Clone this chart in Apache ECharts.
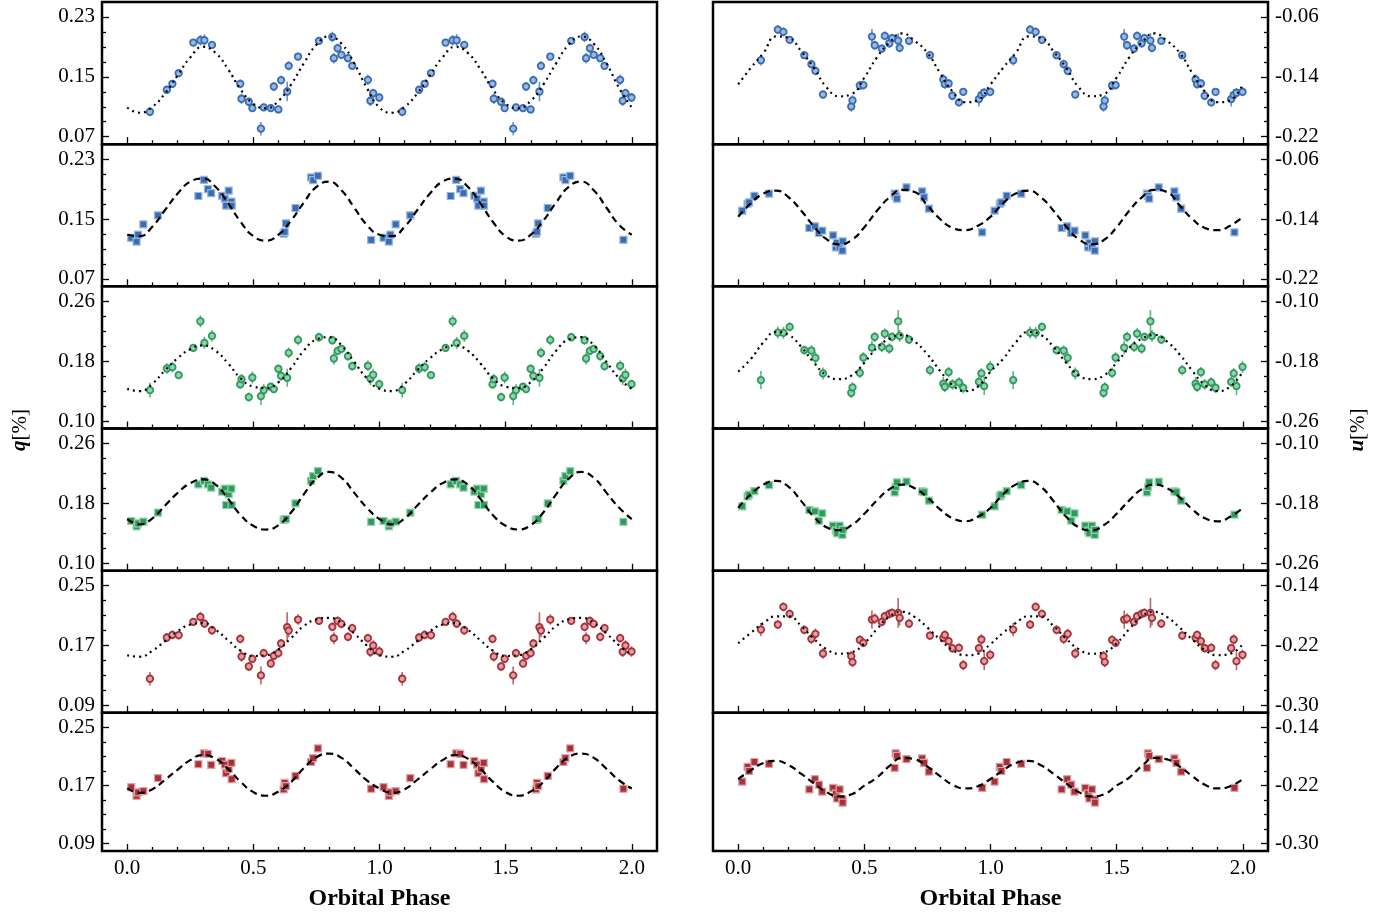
<!DOCTYPE html>
<html><head><meta charset="utf-8">
<script src="https://cdn.jsdelivr.net/npm/echarts@6/dist/echarts.min.js"></script>
<style>html,body{margin:0;padding:0;background:#fff}#c{width:1397px;height:912px}</style>
</head><body><div id="c"></div>
<script>
// ---------- DATA ----------
const phaseC = [0.090,0.157,0.179,0.204,0.262,0.290,0.306,0.336,0.448,0.453,0.482,0.496,0.530,0.541,0.569,0.581,0.599,0.610,0.634,0.640,0.677,0.760,0.813,0.819,0.834,0.849,0.875,0.892,0.954,0.964,0.975,0.999];
const phaseS = [0.016,0.037,0.043,0.064,0.122,0.282,0.304,0.320,0.333,0.376,0.387,0.392,0.402,0.413,0.414,0.620,0.624,0.629,0.667,0.729,0.737,0.756,0.967];
const modelPhase = [0,0.05,0.10,0.15,0.20,0.25,0.30,0.35,0.40,0.45,0.50,0.55,0.60,0.65,0.70,0.75,0.80,0.85,0.90,0.95,1.00];

// q (left column)
const qBlueC = [0.1033,0.1327,0.1407,0.1549,0.1958,0.1989,0.1989,0.1927,0.1407,0.1207,0.1167,0.1082,0.0807,0.1091,0.1082,0.1371,0.1064,0.1456,0.1304,0.1647,0.1771,0.198,0.2033,0.1749,0.1882,0.1793,0.1749,0.1647,0.146,0.118,0.1282,0.1224];
const qBlueCErr = [0.006,0.005,0.005,0.004,0.004,0.007,0.008,0.005,0.006,0.007,0.005,0.005,0.009,0.005,0.005,0.006,0.005,0.006,0.013,0.006,0.005,0.005,0.007,0.007,0.006,0.005,0.005,0.005,0.007,0.007,0.006,0.006];
const qBlueS = [0.1247,0.1198,0.1291,0.1429,0.1549,0.1807,0.2024,0.19,0.1847,0.1811,0.1771,0.1678,0.1878,0.1731,0.1678,0.1304,0.1327,0.1442,0.1647,0.2056,0.202,0.2078,0.122];
const qGreenC = [0.1413,0.1702,0.172,0.1613,0.1978,0.2333,0.2044,0.2138,0.1489,0.156,0.132,0.1582,0.1333,0.1413,0.1458,0.1427,0.1698,0.1604,0.1578,0.1911,0.2084,0.212,0.208,0.1836,0.1938,0.1964,0.1867,0.1733,0.1738,0.1569,0.1618,0.1493];
const qGreenCErr = [0.01,0.007,0.007,0.005,0.005,0.008,0.008,0.008,0.006,0.007,0.006,0.008,0.012,0.008,0.005,0.005,0.006,0.007,0.012,0.007,0.007,0.006,0.006,0.008,0.006,0.005,0.006,0.006,0.007,0.009,0.008,0.006];
const qGreenS = [0.1564,0.1493,0.1533,0.1556,0.1676,0.2053,0.2102,0.2053,0.2009,0.1956,0.1996,0.1778,0.1924,0.1996,0.1778,0.1578,0.1585,0.1591,0.18,0.2102,0.2164,0.2231,0.1551];
const qRedC = [0.1256,0.1807,0.1842,0.1838,0.2016,0.2082,0.1993,0.1904,0.1789,0.1553,0.142,0.1522,0.13,0.1598,0.146,0.1562,0.1598,0.1727,0.1944,0.19,0.2047,0.2029,0.1949,0.1798,0.2029,0.1989,0.1816,0.1931,0.1798,0.1616,0.17,0.162];
const qRedCErr = [0.009,0.006,0.006,0.006,0.005,0.007,0.006,0.006,0.006,0.007,0.006,0.006,0.012,0.006,0.006,0.006,0.006,0.006,0.02,0.009,0.007,0.005,0.006,0.008,0.006,0.006,0.006,0.006,0.006,0.007,0.007,0.007];
const qRedS = [0.1678,0.1558,0.1607,0.1624,0.1802,0.1993,0.2144,0.2136,0.1984,0.2038,0.1989,0.1869,0.1931,0.2011,0.1789,0.1647,0.1736,0.1691,0.1833,0.2024,0.2078,0.2211,0.1656];

// u (right column)
const uBlueC = [-0.1178,-0.0769,-0.08,-0.0907,-0.1111,-0.1231,-0.132,-0.1636,-0.1796,-0.1716,-0.1516,-0.1511,-0.0862,-0.0978,-0.1022,-0.0853,-0.0951,-0.0884,-0.0916,-0.1013,-0.092,-0.1111,-0.1436,-0.1498,-0.1489,-0.1653,-0.1742,-0.16,-0.1698,-0.1644,-0.1613,-0.16];
const uBlueCErr = [0.007,0.006,0.006,0.005,0.005,0.006,0.006,0.005,0.007,0.007,0.006,0.006,0.01,0.006,0.006,0.006,0.006,0.006,0.01,0.006,0.005,0.005,0.007,0.006,0.006,0.006,0.005,0.005,0.01,0.008,0.006,0.006];
const uBlueS = [-0.1289,-0.1196,-0.1178,-0.1089,-0.1062,-0.152,-0.1498,-0.1587,-0.1556,-0.1618,-0.1778,-0.172,-0.1778,-0.1822,-0.1698,-0.1062,-0.109,-0.1129,-0.0978,-0.1031,-0.1111,-0.1262,-0.1578];
const uGreenC = [-0.2053,-0.1418,-0.1422,-0.1342,-0.1653,-0.1658,-0.1756,-0.1964,-0.2222,-0.2151,-0.1956,-0.1751,-0.1618,-0.1476,-0.1609,-0.1431,-0.1631,-0.1476,-0.1267,-0.1462,-0.1511,-0.192,-0.2102,-0.2142,-0.1947,-0.2111,-0.2084,-0.2156,-0.2076,-0.1964,-0.2133,-0.1876];
const uGreenCErr = [0.012,0.008,0.008,0.006,0.006,0.007,0.008,0.008,0.007,0.007,0.007,0.007,0.009,0.007,0.007,0.007,0.007,0.006,0.015,0.008,0.006,0.007,0.009,0.007,0.007,0.007,0.007,0.007,0.007,0.007,0.012,0.008];
const uGreenS = [-0.184,-0.1707,-0.1684,-0.1636,-0.1556,-0.1889,-0.1907,-0.2031,-0.1933,-0.2098,-0.2164,-0.22,-0.2098,-0.2222,-0.2156,-0.1653,-0.158,-0.152,-0.1511,-0.164,-0.1652,-0.1764,-0.1951];
const uRedC = [-0.1987,-0.192,-0.1684,-0.1778,-0.1991,-0.2111,-0.2044,-0.2307,-0.2342,-0.2422,-0.2124,-0.2164,-0.1853,-0.184,-0.1884,-0.1809,-0.1778,-0.1764,-0.1764,-0.1831,-0.1907,-0.2067,-0.2098,-0.2058,-0.2142,-0.2236,-0.2231,-0.2462,-0.2236,-0.212,-0.2409,-0.2324];
const uRedCErr = [0.009,0.006,0.006,0.006,0.006,0.007,0.007,0.007,0.007,0.007,0.006,0.006,0.012,0.007,0.006,0.006,0.006,0.006,0.02,0.01,0.006,0.006,0.006,0.006,0.006,0.006,0.006,0.007,0.006,0.007,0.012,0.007];
const uRedS = [-0.2147,-0.1942,-0.2,-0.1876,-0.1902,-0.2253,-0.2111,-0.2187,-0.2284,-0.2231,-0.2311,-0.2378,-0.2253,-0.2391,-0.2436,-0.1956,-0.1756,-0.1791,-0.1836,-0.1827,-0.1889,-0.2009,-0.2231];

// model curves (phase 0..1, step 0.05)
const qBlueCModel  = [0.109,0.102,0.110,0.128,0.152,0.176,0.190,0.182,0.160,0.133,0.114,0.108,0.118,0.140,0.168,0.193,0.204,0.194,0.168,0.135,0.109];
const qBlueSModel  = [0.129,0.127,0.140,0.162,0.184,0.200,0.204,0.193,0.171,0.146,0.127,0.121,0.129,0.148,0.172,0.193,0.200,0.188,0.165,0.142,0.129];
const qGreenCModel = [0.143,0.140,0.150,0.168,0.184,0.196,0.201,0.194,0.177,0.157,0.146,0.144,0.152,0.171,0.194,0.209,0.212,0.201,0.179,0.157,0.143];
const qGreenSModel = [0.159,0.152,0.160,0.177,0.194,0.207,0.212,0.205,0.186,0.164,0.150,0.145,0.151,0.168,0.192,0.213,0.222,0.214,0.194,0.174,0.159];
const qRedCModel   = [0.157,0.155,0.163,0.176,0.189,0.198,0.200,0.191,0.177,0.163,0.156,0.157,0.165,0.180,0.196,0.205,0.207,0.200,0.186,0.170,0.157];
const qRedSModel   = [0.166,0.160,0.165,0.178,0.192,0.205,0.212,0.207,0.193,0.175,0.161,0.156,0.162,0.175,0.194,0.209,0.214,0.208,0.193,0.177,0.166];
const uBlueCModel  = [-0.150,-0.128,-0.108,-0.086,-0.088,-0.106,-0.128,-0.154,-0.166,-0.163,-0.141,-0.114,-0.094,-0.082,-0.092,-0.108,-0.135,-0.160,-0.174,-0.171,-0.150];
const uBlueSModel  = [-0.137,-0.119,-0.106,-0.102,-0.111,-0.129,-0.150,-0.167,-0.174,-0.168,-0.151,-0.129,-0.111,-0.101,-0.104,-0.122,-0.140,-0.152,-0.155,-0.149,-0.137];
const uGreenCModel = [-0.194,-0.177,-0.155,-0.141,-0.145,-0.161,-0.182,-0.199,-0.204,-0.199,-0.182,-0.162,-0.150,-0.145,-0.154,-0.171,-0.193,-0.212,-0.220,-0.214,-0.194];
const uGreenSModel = [-0.186,-0.168,-0.155,-0.150,-0.158,-0.177,-0.198,-0.212,-0.216,-0.209,-0.194,-0.176,-0.161,-0.155,-0.160,-0.172,-0.188,-0.200,-0.204,-0.198,-0.186];
const uRedCModel   = [-0.217,-0.203,-0.190,-0.181,-0.181,-0.194,-0.211,-0.225,-0.231,-0.229,-0.217,-0.198,-0.181,-0.175,-0.182,-0.196,-0.212,-0.226,-0.233,-0.231,-0.218];
const uRedSModel   = [-0.211,-0.199,-0.189,-0.186,-0.192,-0.204,-0.217,-0.229,-0.235,-0.232,-0.220,-0.209,-0.193,-0.182,-0.184,-0.194,-0.207,-0.219,-0.224,-0.221,-0.211];

// axis ticks / ranges
const xTicks = [0.0,0.5,1.0,1.5,2.0];
const xRange = [-0.1,2.1];
const qBlueTicks = [0.07,0.15,0.23],  qBlueRange = [0.06,0.25];
const qGreenTicks = [0.10,0.18,0.26], qGreenRange = [0.09,0.28];
const qRedTicks = [0.09,0.17,0.25],   qRedRange = [0.08,0.27];
const uBlueTicks = [-0.22,-0.14,-0.06],  uBlueRange = [-0.23,-0.04];
const uGreenTicks = [-0.26,-0.18,-0.10], uGreenRange = [-0.27,-0.08];
const uRedTicks = [-0.30,-0.22,-0.14],   uRedRange = [-0.31,-0.12];

// ---------- STYLE / LAYOUT ----------
const BLUE = '#3a6cb2', GREEN = '#2e9a5d', RED = '#a5323a';
const LIGHT = {[BLUE]:'#9bb8e0', [GREEN]:'#93d3ac', [RED]:'#e0a0a4'};
const FONT = 'Liberation Serif';

const panels = [
  {row:0,col:0,ph:phaseC,val:qBlueC,err:qBlueCErr,model:qBlueCModel,kind:'c',color:BLUE,ticks:qBlueTicks,range:qBlueRange},
  {row:1,col:0,ph:phaseS,val:qBlueS,model:qBlueSModel,kind:'s',color:BLUE,ticks:qBlueTicks,range:qBlueRange},
  {row:2,col:0,ph:phaseC,val:qGreenC,err:qGreenCErr,model:qGreenCModel,kind:'c',color:GREEN,ticks:qGreenTicks,range:qGreenRange},
  {row:3,col:0,ph:phaseS,val:qGreenS,model:qGreenSModel,kind:'s',color:GREEN,ticks:qGreenTicks,range:qGreenRange},
  {row:4,col:0,ph:phaseC,val:qRedC,err:qRedCErr,model:qRedCModel,kind:'c',color:RED,ticks:qRedTicks,range:qRedRange},
  {row:5,col:0,ph:phaseS,val:qRedS,model:qRedSModel,kind:'s',color:RED,ticks:qRedTicks,range:qRedRange},
  {row:0,col:1,ph:phaseC,val:uBlueC,err:uBlueCErr,model:uBlueCModel,kind:'c',color:BLUE,ticks:uBlueTicks,range:uBlueRange},
  {row:1,col:1,ph:phaseS,val:uBlueS,model:uBlueSModel,kind:'s',color:BLUE,ticks:uBlueTicks,range:uBlueRange},
  {row:2,col:1,ph:phaseC,val:uGreenC,err:uGreenCErr,model:uGreenCModel,kind:'c',color:GREEN,ticks:uGreenTicks,range:uGreenRange},
  {row:3,col:1,ph:phaseS,val:uGreenS,model:uGreenSModel,kind:'s',color:GREEN,ticks:uGreenTicks,range:uGreenRange},
  {row:4,col:1,ph:phaseC,val:uRedC,err:uRedCErr,model:uRedCModel,kind:'c',color:RED,ticks:uRedTicks,range:uRedRange},
  {row:5,col:1,ph:phaseS,val:uRedS,model:uRedSModel,kind:'s',color:RED,ticks:uRedTicks,range:uRedRange}
];

const TOP = 2, ROWH = 142.17, LEFTX = [102, 713], W = 555;
const xMinor = [];
for (let k = 1; k < 20; k++) { if (k % 5) xMinor.push(k / 10); }

const grids = [], xAxes = [], yAxes = [], series = [];
const tickStyle = {color:'#000', width:1.3};
const labelStyle = {color:'#000', fontFamily:FONT, fontSize:21};
const noLine = {show:false, onZero:false};

panels.forEach((p, i) => {
  grids.push({left:LEFTX[p.col], width:W, top:TOP + p.row*ROWH, height:ROWH,
    show:true, borderColor:'#000', borderWidth:2.5, backgroundColor:'transparent', z:10});
  const bottom = p.row === 5;
  xAxes.push({gridIndex:i, type:'value', position:'bottom', min:xRange[0], max:xRange[1],
    axisLine:noLine, splitLine:{show:false},
    axisTick:{show:true, inside:true, length:7, customValues:xTicks, lineStyle:tickStyle},
    axisLabel:Object.assign({show:bottom, customValues:xTicks, margin:7, formatter:v=>v.toFixed(1)}, labelStyle),
    name: bottom ? 'Orbital Phase' : '', nameLocation:'middle', nameGap:36,
    nameTextStyle:{color:'#000', fontFamily:FONT, fontWeight:'bold', fontSize:24}});
  xAxes.push({gridIndex:i, type:'value', position:'bottom', min:xRange[0], max:xRange[1],
    axisLine:noLine, splitLine:{show:false},
    axisTick:{show:true, inside:true, length:4, customValues:xMinor, lineStyle:tickStyle},
    axisLabel:{show:false}});
  const pos = p.col === 0 ? 'left' : 'right';
  const yMinor = [];
  for (let v = p.ticks[0] - 0.02; v > p.range[0] + 1e-6; v -= 0.02) yMinor.push(+v.toFixed(3));
  for (let v = p.ticks[0] + 0.02; v < p.range[1] - 1e-6; v += 0.02) {
    const r = +v.toFixed(3);
    if (!p.ticks.some(t => Math.abs(t - r) < 1e-6)) yMinor.push(r);
  }
  yAxes.push({gridIndex:i, type:'value', position:pos, min:p.range[0], max:p.range[1],
    axisLine:noLine, splitLine:{show:false},
    axisTick:{show:true, inside:true, length:7, customValues:p.ticks, lineStyle:tickStyle},
    axisLabel:Object.assign({show:true, customValues:p.ticks, margin:7, formatter:v=>v.toFixed(2)}, labelStyle)});
  yAxes.push({gridIndex:i, type:'value', position:pos, min:p.range[0], max:p.range[1],
    axisLine:noLine, splitLine:{show:false},
    axisTick:{show:true, inside:true, length:4, customValues:yMinor, lineStyle:tickStyle},
    axisLabel:{show:false}});

  const pts = p.ph.map((x, k) => [x, p.val[k], p.err ? p.err[k] : 0])
    .concat(p.ph.map((x, k) => [x + 1, p.val[k], p.err ? p.err[k] : 0]));
  if (p.kind === 'c') {
    series.push({type:'custom', xAxisIndex:2*i, yAxisIndex:2*i, data:pts, encode:{x:0, y:1}, z:2, silent:true,
      renderItem:(params, api) => {
        const x = api.value(0), y = api.value(1), e = api.value(2);
        const a = api.coord([x, y - e]), b = api.coord([x, y + e]);
        return {type:'line', shape:{x1:a[0], y1:a[1], x2:b[0], y2:b[1]},
          style:{stroke:p.color, lineWidth:1.6, opacity:0.75}};
      }});
  }
  series.push({type:'scatter', xAxisIndex:2*i, yAxisIndex:2*i, z:3, silent:true,
    data:pts.map(d => [d[0], d[1]]),
    symbol: p.kind === 'c' ? 'circle' : 'rect',
    symbolSize: p.kind === 'c' ? 6.5 : 7,
    itemStyle: p.kind === 'c'
      ? {color:LIGHT[p.color], borderColor:p.color, borderWidth:1.8, opacity:1}
      : {color:p.color, borderColor:LIGHT[p.color], borderWidth:1.2, opacity:1}});
  const mdata = modelPhase.map((x, k) => [x, p.model[k]])
    .concat(modelPhase.slice(1).map((x, k) => [x + 1, p.model[k + 1]]));
  series.push({type:'line', xAxisIndex:2*i, yAxisIndex:2*i, z:4, silent:true, data:mdata,
    symbol:'none', smooth:true,
    lineStyle:{color:'#000', width:2.2, type: p.kind === 'c' ? [2, 4] : [7, 4.5], cap:'butt'}});
});

const chart = echarts.init(document.getElementById('c'), null, {renderer:'canvas'});
chart.setOption({
  animation:false,
  backgroundColor:'#fff',
  grid:grids, xAxis:xAxes, yAxis:yAxes, series:series,
  graphic:[
    {type:'text', x:20, y:430, rotation:Math.PI/2,
      style:{text:'{a|q}{b|[%]}', align:'center', verticalAlign:'middle',
        rich:{a:{fontFamily:FONT, fontStyle:'italic', fontWeight:'bold', fontSize:21, fill:'#000'},
              b:{fontFamily:FONT, fontSize:21, fill:'#000'}}}},
    {type:'text', x:1358, y:430, rotation:Math.PI/2,
      style:{text:'{a|u}{b|[%]}', align:'center', verticalAlign:'middle',
        rich:{a:{fontFamily:FONT, fontStyle:'italic', fontWeight:'bold', fontSize:21, fill:'#000'},
              b:{fontFamily:FONT, fontSize:21, fill:'#000'}}}}
  ]
});
</script>
</body></html>
